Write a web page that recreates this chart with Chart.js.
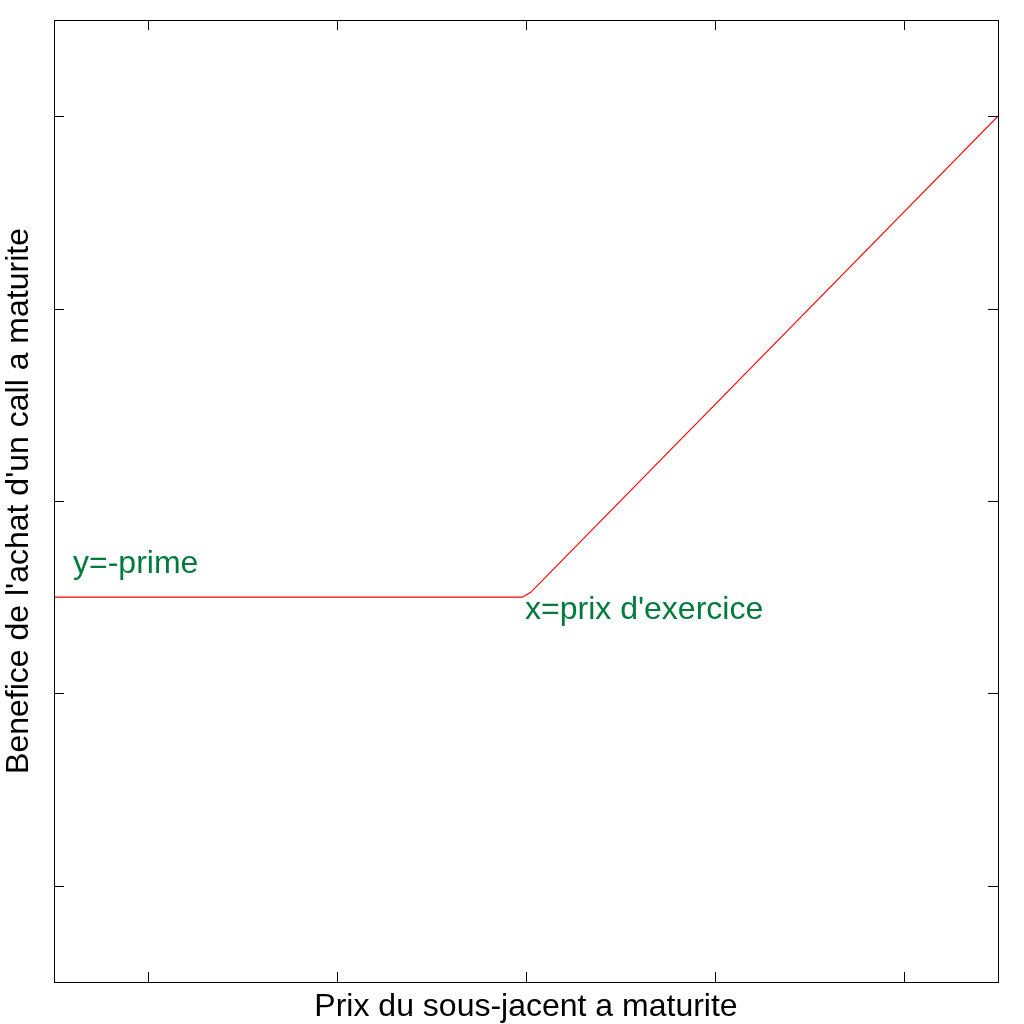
<!DOCTYPE html>
<html>
<head>
<meta charset="utf-8">
<script src="https://cdn.jsdelivr.net/npm/chart.js@4.4.1/dist/chart.umd.min.js"></script>
<style>
    html, body { margin: 0; padding: 0; background: #fff; }
    #wrap { width: 1024px; height: 1024px; }
</style>
</head>
<body>
<div id="wrap"><canvas id="chartCall" width="1024" height="1024"></canvas></div>
<script>

// =========================
// DATA
// =========================
const spotPrices = [5, 29.8, 30.25, 55];
const payoffs = [-5, -5, -4.75, 20];

const xTicks = [10, 20, 30, 40, 50];
const yTicks = [-20, -10, 0, 10, 20];

const xRange = [5, 55];
const yRange = [-25, 25];

const primeLabel = { x: 5, y: -5, text: "y=-prime" };
const strikeLabel = { x: 30, y: -5, text: "x=prix d'exercice" };

const xTitle = "Prix du sous-jacent a maturite";
const yTitle = "Benefice de l'achat d'un call a maturite";

const textGreen = "#007a3d";
const fontFamily = "'Liberation Sans', Arial, sans-serif";


// =========================
// FRAME + TICKS + TEXTS
// =========================
const framePlugin = {

    id: "frame",

    afterDraw(chart) {

        const ctx = chart.ctx;
        const area = chart.chartArea;
        const xs = chart.scales.x;
        const ys = chart.scales.y;

        ctx.save();

        ctx.strokeStyle = "#000";
        ctx.lineWidth = 1;

        // box
        ctx.strokeRect(area.left + 0.5, area.top + 0.5, area.right - area.left, area.bottom - area.top);

        // inward ticks
        ctx.beginPath();
        xTicks.forEach(function (v) {
            const px = Math.round(xs.getPixelForValue(v)) + 0.5;
            ctx.moveTo(px, area.bottom);
            ctx.lineTo(px, area.bottom - 10);
            ctx.moveTo(px, area.top);
            ctx.lineTo(px, area.top + 10);
        });
        yTicks.forEach(function (v) {
            const py = Math.round(ys.getPixelForValue(v)) + 0.5;
            ctx.moveTo(area.left, py);
            ctx.lineTo(area.left + 10, py);
            ctx.moveTo(area.right, py);
            ctx.lineTo(area.right - 10, py);
        });
        ctx.stroke();

        // annotations
        ctx.font = "32px " + fontFamily;
        ctx.fillStyle = textGreen;
        ctx.textBaseline = "alphabetic";
        ctx.textAlign = "left";
        ctx.fillText(primeLabel.text, xs.getPixelForValue(primeLabel.x) + 19, ys.getPixelForValue(primeLabel.y) - 24);
        ctx.fillText(strikeLabel.text, xs.getPixelForValue(strikeLabel.x) - 1, ys.getPixelForValue(strikeLabel.y) + 22);

        // axis titles
        ctx.fillStyle = "#000";
        ctx.textAlign = "center";
        ctx.fillText(xTitle, (area.left + area.right) / 2, 1016);

        ctx.translate(28, (area.top + area.bottom) / 2);
        ctx.rotate(-Math.PI / 2);
        ctx.fillText(yTitle, 0, 0);

        ctx.restore();
    }
};


// =========================
// CHART
// =========================
document.addEventListener("DOMContentLoaded", function () {

    const ctx = document.getElementById("chartCall");

    new Chart(ctx, {

        type: "line",

        data: {
            datasets: [{
                label: "Benefice",
                data: spotPrices.map(function (x, i) { return { x: x, y: payoffs[i] }; }),
                borderColor: "#ff0000",
                borderWidth: 1.2,
                pointRadius: 0,
                fill: false,
                tension: 0
            }]
        },

        options: {
            responsive: false,
            animation: false,
            devicePixelRatio: 1,
            layout: {
                padding: { left: 54, right: 26, top: 20, bottom: 42 }
            },
            plugins: {
                legend: { display: false },
                tooltip: { enabled: false }
            },
            scales: {
                x: {
                    type: "linear",
                    display: false,
                    min: xRange[0],
                    max: xRange[1]
                },
                y: {
                    type: "linear",
                    display: false,
                    min: yRange[0],
                    max: yRange[1]
                }
            }
        },

        plugins: [framePlugin]

    });

});
</script>
</body>
</html>
